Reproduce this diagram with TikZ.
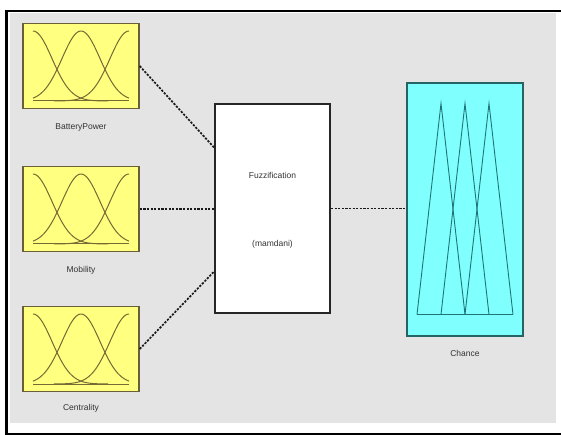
\documentclass[tikz,border=0pt]{standalone}
\usepackage{fontspec}
\setmainfont{Liberation Sans}
\usetikzlibrary{positioning}
\definecolor{panel}{RGB}{228,228,228}
\definecolor{infill}{RGB}{255,255,128}
\definecolor{inedge}{RGB}{105,96,58}
\definecolor{inmf}{RGB}{120,104,52}
\definecolor{outfill}{RGB}{128,255,255}
\definecolor{outedge}{RGB}{38,100,100}
\definecolor{outmf}{RGB}{30,118,118}

\begin{document}
\begin{tikzpicture}[x=1pt,y=-1pt,
    inbox/.style={draw=inedge,fill=infill,line width=1.4pt,minimum width=116pt,minimum height=85pt,inner sep=0pt},
    fisbox/.style={draw=black!85,fill=white,line width=1.8pt,minimum width=115pt,minimum height=209pt,inner sep=0pt},
    outbox/.style={draw=outedge,fill=outfill,line width=1.8pt,minimum width=116pt,minimum height=253pt,inner sep=0pt},
    lbl/.style={font=\fontsize{8.5}{9}\selectfont,text=black!80,inner sep=0pt},
    link/.style={line width=1.7pt,black!90,dash pattern=on 2.2pt off 1.4pt},
    mf/.style={line width=1pt,draw=inmf},
    tri/.style={line width=0.9pt,draw=outmf}]
    \useasboundingbox (0,0) rectangle (561,435);
    \fill[panel] (10,13) rectangle (556,423);
    \draw[line width=2.2pt] (561,11) -- (6.5,11) -- (6.5,434) -- (561,434);

    \node[inbox] (bp) at (81,66) {};
    \node[inbox] (mob) at (81,209) {};
    \node[inbox] (cen) at (81,349) {};
    \node[fisbox] (fis) at (272.5,208.5) {};
    \node[outbox] (out) at (465,209.5) {};

    \node[lbl,below=14pt of bp] (bpl) {BatteryPower};
    \node[lbl,below=14pt of mob] (mobl) {Mobility};
    \node[lbl,below=12pt of cen] (cenl) {Centrality};
    \node[lbl,below=13pt of out] (outl) {Chance};
    \node[lbl] (fist) at ([yshift=33pt]fis.center) {Fuzzification};
    \node[lbl] (fism) at ([yshift=-36pt]fis.center) {(mamdani)};

    \draw[link] (bp.east) -- ([yshift=61pt]fis.west);
    \draw[link] (mob.east) -- (mob.east -| fis.west);
    \draw[link] (cen.east) -- ([yshift=-63pt]fis.west);
    \draw[link] (fis.east) -- (fis.east -| out.west);

    \foreach \v in {bp,mob,cen}{
      \begin{scope}[shift={(\v.center)}]
        \draw[mf] (-48,35) -- (48,35);
        \draw[mf] plot[domain=-48:27,samples=50] (\x,{35-70*exp(-((\x+48)*(\x+48))/722)});
        \draw[mf] plot[domain=-48:48,samples=60] (\x,{35-70*exp(-(\x*\x)/722)});
        \draw[mf] plot[domain=-27:48,samples=50] (\x,{35-70*exp(-((\x-48)*(\x-48))/722)});
      \end{scope}
    }

    \begin{scope}[shift={(out.center)}]
      \draw[tri] (-48,105) -- (-24,-106) -- (0,105);
      \draw[tri] (-24,105) -- (0,-106) -- (24,105);
      \draw[tri] (0,105) -- (24,-106) -- (48,105);
      \draw[tri] (-48,105) -- (48,105);
    \end{scope}
\end{tikzpicture}
\end{document}
